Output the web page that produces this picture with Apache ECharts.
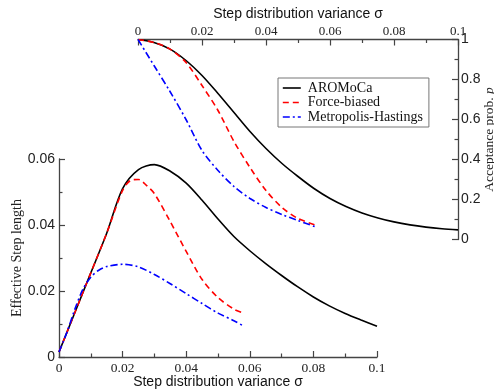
<!DOCTYPE html>
<html><head><meta charset="utf-8">
<script src="https://cdn.jsdelivr.net/npm/echarts@6/dist/echarts.min.js"></script>
<style>html,body{margin:0;padding:0;background:#fff}#c{width:494px;height:390px}</style>
</head><body><div id="c"></div>
<script>
// ---- Top panel: acceptance probability vs sigma ----
const accSigmaAro = [0,0.005,0.01,0.015,0.02,0.025,0.03,0.035,0.04,0.045,0.05,0.055,0.06,0.065,0.07,0.075,0.08,0.085,0.09,0.095,0.1];
const accAro      = [1.0,0.985,0.952,0.895,0.82,0.73,0.635,0.54,0.455,0.38,0.315,0.255,0.205,0.165,0.133,0.108,0.088,0.073,0.062,0.054,0.048];
const accSigmaFB  = [0,0.005,0.01,0.015,0.02,0.025,0.03,0.035,0.04,0.045,0.05,0.056];
const accFB       = [1.0,0.985,0.952,0.885,0.77,0.645,0.49,0.36,0.245,0.16,0.105,0.07];
const accSigmaMH  = [0,0.005,0.01,0.015,0.02,0.025,0.03,0.035,0.04,0.045,0.05,0.056];
const accMH       = [1.0,0.87,0.74,0.60,0.445,0.345,0.265,0.205,0.16,0.125,0.095,0.06];

// ---- Bottom panel: effective step length vs sigma ----
const stepSigmaAro = [0,0.005,0.01,0.015,0.02,0.025,0.03,0.035,0.04,0.045,0.05,0.055,0.06,0.065,0.07,0.075,0.08,0.085,0.09,0.095,0.1];
const stepAro      = [0.0015,0.0135,0.0255,0.0375,0.051,0.0568,0.0583,0.0563,0.0527,0.0475,0.0418,0.0365,0.0322,0.0283,0.0247,0.0213,0.0182,0.0155,0.0132,0.0112,0.0093];
const stepSigmaFB  = [0,0.005,0.01,0.015,0.02,0.0225,0.025,0.0275,0.03,0.035,0.04,0.045,0.05,0.055,0.058];
const stepFB       = [0.0015,0.0135,0.0255,0.0375,0.0505,0.0535,0.0538,0.052,0.0495,0.041,0.032,0.0235,0.018,0.0145,0.0133];
const stepSigmaMH  = [0,0.0025,0.005,0.0075,0.01,0.0125,0.015,0.02,0.025,0.03,0.035,0.04,0.045,0.05,0.055,0.058];
const stepMH       = [0.0015,0.0075,0.0145,0.0205,0.0242,0.0263,0.0274,0.0281,0.0273,0.025,0.0222,0.0192,0.0162,0.0133,0.011,0.0094];

const names = ['AROMoCa','Force-biased','Metropolis-Hastings'];
const xTitle = 'Step distribution variance σ';
const yTitleTop = 'Acceptance prob. {i|p}';
const yTitleBottom = 'Effective Step length';

const pair = (xs, ys) => xs.map((x, i) => [x, ys[i]]);
const fmt = v => String(+v.toFixed(3));
const SERIF = '"Liberation Serif", "DejaVu Serif", serif';
const SANS = '"Liberation Sans", Arial, sans-serif';
const axisCol = '#444';

function axisCommon(opts) {
  return Object.assign({
    type: 'value',
    axisLine: { show: true, onZero: false, lineStyle: { color: axisCol, width: 1.3 } },
    axisTick: { show: true, inside: true, length: 6, lineStyle: { color: axisCol, width: 1.2 } },
    minorTick: { show: true, splitNumber: 2, length: 3.5, lineStyle: { color: axisCol, width: 1.2 } },
    splitLine: { show: false },
    minorSplitLine: { show: false },
    nameLocation: 'middle',
    nameMoveOverlap: false
  }, opts);
}

const styles = [
  { color: '#000000', type: 'solid' },
  { color: '#ff0000', type: [6, 4] },
  { color: '#0000ff', type: [7, 3, 2, 3] }
];

function mk(name, idx, data, gi) {
  return {
    type: 'line', name: name, xAxisIndex: gi, yAxisIndex: gi,
    data: data, symbol: 'none', smooth: 0.3, z: 3,
    lineStyle: { color: styles[idx].color, width: 1.6, type: styles[idx].type },
    itemStyle: { color: styles[idx].color },
    emphasis: { disabled: true }
  };
}

const chart = echarts.init(document.getElementById('c'), null, { renderer: 'canvas' });
chart.setOption({
  animation: false,
  backgroundColor: '#ffffff',
  grid: [
    { left: 138, top: 39.5, width: 320, height: 200, outerBoundsMode: 'none', containLabel: false },
    { left: 59, top: 159, width: 318, height: 198, outerBoundsMode: 'none', containLabel: false }
  ],
  xAxis: [
    axisCommon({
      gridIndex: 0, position: 'top', min: 0, max: 0.1, interval: 0.02,
      name: xTitle, nameGap: 18,
      nameTextStyle: { fontFamily: SANS, fontSize: 14, color: '#111' },
      axisLabel: { formatter: fmt, margin: 1, fontFamily: SERIF, fontSize: 13, color: '#222', showMinLabel: true, showMaxLabel: true }
    }),
    axisCommon({
      gridIndex: 1, position: 'bottom', min: 0, max: 0.1, interval: 0.02,
      name: xTitle, nameGap: 18,
      nameTextStyle: { fontFamily: SANS, fontSize: 14, color: '#111' },
      axisLabel: { formatter: fmt, margin: 4, fontFamily: SERIF, fontSize: 13.5, color: '#222', showMinLabel: true, showMaxLabel: true }
    })
  ],
  yAxis: [
    axisCommon({
      gridIndex: 0, position: 'right', min: 0, max: 1, interval: 0.2,
      name: yTitleTop, nameGap: 24, nameRotate: 90,
      nameTextStyle: { fontFamily: SERIF, fontSize: 13.5, color: '#222',
        rich: { i: { fontFamily: SERIF, fontSize: 13.5, fontStyle: 'italic', color: '#222' } } },
      axisLabel: { formatter: fmt, margin: 3, fontFamily: SANS, fontSize: 14, color: '#222', showMinLabel: true, showMaxLabel: true }
    }),
    axisCommon({
      gridIndex: 1, position: 'left', min: 0, max: 0.06, interval: 0.02,
      name: yTitleBottom, nameGap: 35, nameRotate: 90,
      nameTextStyle: { fontFamily: SERIF, fontSize: 14, color: '#222' },
      axisLabel: { formatter: fmt, margin: 4, fontFamily: SANS, fontSize: 14, color: '#222', showMinLabel: true, showMaxLabel: true }
    })
  ],
  legend: {
    show: true, data: names, orient: 'vertical', left: 278, top: 78,
    itemWidth: 18, itemHeight: 14, itemGap: 0.5,
    padding: [3, 6, 3, 4],
    borderColor: '#777', borderWidth: 1, backgroundColor: '#fff',
    selectedMode: false,
    itemStyle: { color: 'rgba(0,0,0,0)', borderColor: 'rgba(0,0,0,0)', borderWidth: 0 },
    lineStyle: { width: 1.6 },
    textStyle: { fontFamily: SERIF, fontSize: 14, color: '#111', lineHeight: 14, padding: [0, 0, 0, 2] }
  },
  series: [
    mk(names[0], 0, pair(accSigmaAro, accAro), 0),
    mk(names[1], 1, pair(accSigmaFB, accFB), 0),
    mk(names[2], 2, pair(accSigmaMH, accMH), 0),
    mk(names[0], 0, pair(stepSigmaAro, stepAro), 1),
    mk(names[1], 1, pair(stepSigmaFB, stepFB), 1),
    mk(names[2], 2, pair(stepSigmaMH, stepMH), 1)
  ]
});
</script>
</body></html>
